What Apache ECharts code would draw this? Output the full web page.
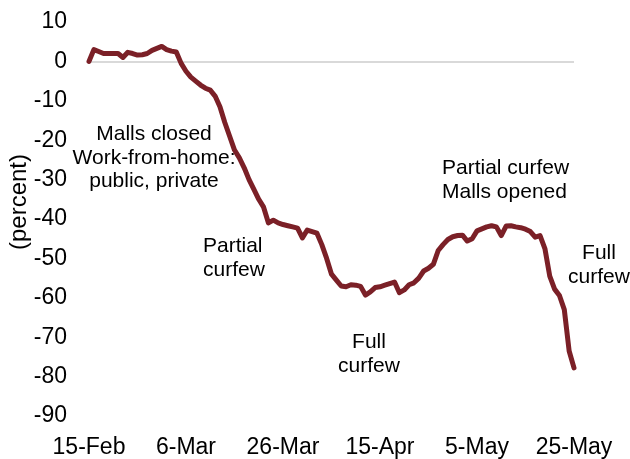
<!DOCTYPE html>
<html>
<head>
<meta charset="utf-8">
<script src="https://cdn.jsdelivr.net/npm/echarts@6/dist/echarts.min.js"></script>
<style>
html,body{margin:0;padding:0;background:#fff;}
#chart{width:630px;height:459px;}
</style>
</head>
<body>
<div id="chart"></div>
<script>
// Daily values, 15-Feb to 25-May (percent)
const startDate = '2020-02-15';
const values = [
  0, 3, 2.5, 2, 2, 2, 2, 1, 2.3, 2,
  1.6, 1.7, 2, 2.8, 3.3, 3.8, 3, 2.6, 2.4, -0.5,
  -2.5, -4, -5, -6, -6.8, -7.3, -8.8, -11.5, -15.5, -19,
  -22.5, -24.5, -27, -30, -32.5, -35, -37, -41, -40.3, -41,
  -41.4, -41.7, -42, -42.3, -44.8, -42.8, -43.2, -43.6, -46.5, -50,
  -54, -55.5, -57, -57.2, -56.7, -56.8, -57.1, -59.3, -58.5, -57.4,
  -57.2, -56.8, -56.4, -56, -58.7, -58, -56.7, -56.2, -55, -53.2,
  -52.5, -51.5, -48, -46.5, -45.2, -44.5, -44.2, -44.1, -45.6, -45,
  -43, -42.5, -42, -41.7, -42, -44.2, -41.8, -41.7, -42, -42.2,
  -42.6, -43.2, -44.6, -44.2, -47.5, -54.5, -57.8, -59.4, -63, -73.5,
  -77.8
];
const yTicks = [-90, -80, -70, -60, -50, -40, -30, -20, -10, 0, 10];
const annotationTexts = [
  'Malls closed\nWork-from-home:\npublic, private',
  'Partial\ncurfew',
  'Full\ncurfew',
  'Partial curfew\nMalls opened',
  'Full\ncurfew'
];
const yTitle = '(percent)';

const months = ['Jan','Feb','Mar','Apr','May','Jun','Jul','Aug','Sep','Oct','Nov','Dec'];
const categories = [];
{
  const d0 = new Date(startDate + 'T00:00:00Z');
  for (let i = 0; i < values.length; i++) {
    const d = new Date(d0.getTime() + i * 86400000);
    categories.push(d.getUTCDate() + '-' + months[d.getUTCMonth()]);
  }
}

const chart = echarts.init(document.getElementById('chart'));
const FONT = '"Liberation Sans", Arial, sans-serif';
const splitColors = yTicks.map(v => v === 0 ? '#d9d9d9' : 'rgba(0,0,0,0)');

const specs = [
  { i: 0, x: 154, y: 158, align: 'center' },
  { i: 1, x: 203, y: 258, align: 'left' },
  { i: 2, x: 369, y: 354, align: 'center' },
  { i: 3, x: 442, y: 180, align: 'left' },
  { i: 4, x: 599, y: 265, align: 'center' }
];
const graphics = [{
  type: 'text',
  x: 19, y: 202,
  rotation: Math.PI / 2,
  style: { text: yTitle, font: '24px ' + FONT, fill: '#000', align: 'center', verticalAlign: 'middle' }
}];
specs.forEach(s => {
  graphics.push({
    type: 'text', x: s.x, y: s.y,
    style: { text: annotationTexts[s.i], font: '21px ' + FONT, fill: '#000', align: s.align, verticalAlign: 'middle', lineHeight: 23.5 }
  });
});

chart.setOption({
  animation: false,
  grid: { left: 89, right: 56, top: 22, bottom: 40 },
  xAxis: {
    type: 'category',
    data: categories,
    boundaryGap: false,
    axisLine: { show: false },
    axisTick: { show: false },
    axisLabel: {
      interval: 19,
      margin: 20,
      fontSize: 23,
      color: '#000',
      fontFamily: FONT,
      showMaxLabel: true
    },
    splitLine: { show: false }
  },
  yAxis: {
    type: 'value',
    min: -90,
    max: 10,
    interval: 10,
    axisLine: { show: false },
    axisTick: { show: false },
    axisLabel: { fontSize: 23, color: '#000', fontFamily: FONT, margin: 22 },
    splitLine: { show: true, lineStyle: { color: splitColors, width: 2 } }
  },
  series: [{
    type: 'line',
    data: values,
    showSymbol: false,
    lineStyle: { color: '#7b2027', width: 5, cap: 'round', join: 'round' },
    z: 3
  }],
  graphic: graphics
});
</script>
</body>
</html>
